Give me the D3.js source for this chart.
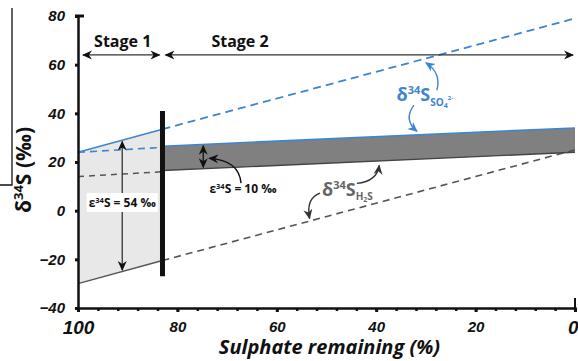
<!DOCTYPE html>
<html>
<head>
<meta charset="utf-8">
<script src="https://cdn.jsdelivr.net/npm/d3@7"></script>
<style>
  html, body { margin: 0; padding: 0; background: #fff; }
  svg { display: block; font-family: "Open Sans", "DejaVu Sans", sans-serif; }
</style>
</head>
<body>
<svg id="chart" width="578" height="361"></svg>
<script>
// Sulphate remaining (%) and δ34S (‰) for a two-stage Rayleigh-style fractionation sketch
const xTicksMajor = [100, 80, 60, 40, 20, 0];
const xTicksMinor = d3.range(100, -1, -4);
const yTicks = [80, 60, 40, 20, 0, -20, -40];

const stageBoundary = 83;          // % sulphate remaining where stage 1 ends
const epsStage1 = 54;              // ε34S in stage 1 (‰)
const epsStage2 = 10;              // ε34S in stage 2 (‰)

// Stage 1 sulphate (solid) and its dashed counterpart
const so4Stage1 = [[100, 24], [stageBoundary, 33.5]];
const so4Stage1Dashed = [[100, 24], [stageBoundary, 26]];
// Stage 2 sulphate: closed-system trend (dashed) and band top (solid)
const so4Stage2Dashed = [[stageBoundary, 33.5], [0, 79]];
const so4Stage2 = [[stageBoundary, 26.5], [0, 34]];

// Sulphide curves derived from sulphate minus ε
const h2sStage1 = so4Stage1.map(([x, v]) => [x, v - epsStage1]);
const h2sStage1Dashed = so4Stage1Dashed.map(([x, v]) => [x, v - epsStage2]);
const h2sStage2Dashed = so4Stage2Dashed.map(([x, v]) => [x, v - epsStage1]);
const h2sStage2 = so4Stage2.map(([x, v]) => [x, v - epsStage2]);

const boundaryBar = [41, -27];

const svg = d3.select("#chart");

const x = d3.scaleLinear().domain([100, 0]).range([78, 575]);
const y = d3.scaleLinear().domain([-40, 80]).range([308, 16]);

const blue = "#3d86cf";
const greyDash = "#555555";
const line = d3.line().x(d => x(d[0])).y(d => y(d[1]));

// linear interpolation along a two-point segment
function at(seg, xv) {
  const [[x0, v0], [x1, v1]] = seg;
  return v0 + (xv - x0) / (x1 - x0) * (v1 - v0);
}

// arrowhead markers
const defs = svg.append("defs");
function marker(id, color) {
  defs.append("marker")
    .attr("id", id)
    .attr("viewBox", "0 0 10 10")
    .attr("refX", 9).attr("refY", 5)
    .attr("markerWidth", 10).attr("markerHeight", 10)
    .attr("markerUnits", "userSpaceOnUse")
    .attr("orient", "auto-start-reverse")
    .append("path")
    .attr("d", "M0,0.5 L10,5 L0,9.5 L3,5 Z")
    .attr("fill", color);
}
marker("arrK", "#111");
marker("arrB", blue);
marker("arrG", "#333");

// frame line at the left edge
svg.append("path")
  .attr("d", `M12,8 L12,185 L0,185`)
  .attr("fill", "none").attr("stroke", "#111").attr("stroke-width", 1.3);

// stage 1 light fill between sulphate and sulphide
const area1 = so4Stage1.concat(h2sStage1.slice().reverse());
svg.append("path")
  .attr("d", line(area1) + "Z")
  .attr("fill", "#e8e8e8");

// stage 2 grey band between sulphate and sulphide
const area2 = so4Stage2.concat(h2sStage2.slice().reverse());
svg.append("path")
  .attr("d", line(area2) + "Z")
  .attr("fill", "#808080");

// dashed trends
svg.append("path").attr("d", line(so4Stage2Dashed))
  .attr("fill", "none").attr("stroke", blue).attr("stroke-width", 1.8).attr("stroke-dasharray", "8,5");
svg.append("path").attr("d", line(so4Stage1Dashed))
  .attr("fill", "none").attr("stroke", blue).attr("stroke-width", 1.6).attr("stroke-dasharray", "7,5");
svg.append("path").attr("d", line(h2sStage2Dashed))
  .attr("fill", "none").attr("stroke", greyDash).attr("stroke-width", 1.6).attr("stroke-dasharray", "7,5");
svg.append("path").attr("d", line(h2sStage1Dashed))
  .attr("fill", "none").attr("stroke", greyDash).attr("stroke-width", 1.5).attr("stroke-dasharray", "6,5");

// solid trends
svg.append("path").attr("d", line(so4Stage1))
  .attr("fill", "none").attr("stroke", blue).attr("stroke-width", 1.6);
svg.append("path").attr("d", line(h2sStage1))
  .attr("fill", "none").attr("stroke", "#555").attr("stroke-width", 1.4);
svg.append("path").attr("d", line(so4Stage2))
  .attr("fill", "none").attr("stroke", blue).attr("stroke-width", 1.6);
svg.append("path").attr("d", line(h2sStage2))
  .attr("fill", "none").attr("stroke", "#444").attr("stroke-width", 1.4);

// stage boundary bar
svg.append("line")
  .attr("x1", x(stageBoundary)).attr("x2", x(stageBoundary))
  .attr("y1", y(boundaryBar[0])).attr("y2", y(boundaryBar[1]))
  .attr("stroke", "#111").attr("stroke-width", 5);

// axes
const xAxisMinor = d3.axisBottom(x).tickValues(xTicksMinor).tickSize(3).tickFormat("");
svg.append("g").attr("transform", `translate(0,${y(-40)})`).call(xAxisMinor)
  .call(g => g.select(".domain").attr("stroke", "#111").attr("stroke-width", 2.5))
  .call(g => g.selectAll(".tick line").attr("stroke", "#111").attr("stroke-width", 2.5));

const xAxis = d3.axisBottom(x).tickValues(xTicksMajor).tickSize(4).tickPadding(9)
  .tickFormat(d3.format("d"));
svg.append("g").attr("transform", `translate(0,${y(-40)})`).call(xAxis)
  .call(g => g.select(".domain").remove())
  .call(g => g.selectAll(".tick line").attr("stroke", "#111").attr("stroke-width", 3))
  .call(g => g.selectAll(".tick text")
    .attr("fill", "#111")
    .attr("text-anchor", d => d === 0 ? "end" : "middle")
    .attr("dx", d => d === 0 ? 3 : 0)
    .style("font-size", d => (d === 100 || d === 0) ? "19px" : "15px")
    .style("font-weight", "bold").style("font-style", "italic"));

// end tick at 0 % rising above the axis
svg.append("line")
  .attr("x1", x(0)).attr("x2", x(0))
  .attr("y1", y(-40) - 10).attr("y2", y(-40) + 2)
  .attr("stroke", "#111").attr("stroke-width", 2);

const yAxis = d3.axisLeft(y).tickValues(yTicks).tickSize(3).tickPadding(10)
  .tickFormat(d3.format("d"));
svg.append("g").attr("transform", `translate(${x(100)},0)`).call(yAxis)
  .call(g => g.select(".domain").attr("stroke", "#111").attr("stroke-width", 2.5))
  .call(g => g.selectAll(".tick line").attr("stroke", "#111").attr("stroke-width", 3))
  .call(g => g.selectAll(".tick text")
    .attr("fill", "#111")
    .style("font-size", "15px")
    .style("font-weight", "bold").style("font-style", "italic"));

// cap at the top of the y axis
svg.append("line")
  .attr("x1", x(100) - 3).attr("x2", x(100) + 6)
  .attr("y1", y(80)).attr("y2", y(80))
  .attr("stroke", "#111").attr("stroke-width", 3);

// axis titles
svg.append("text")
  .attr("x", (x(100) + x(0)) / 2 + 3).attr("y", 354)
  .attr("text-anchor", "middle")
  .style("font-size", "20px").style("font-weight", "bold").style("font-style", "italic")
  .attr("fill", "#111")
  .text("Sulphate remaining (%)");

const yTitle = svg.append("text")
  .attr("transform", `translate(31,${(y(80) + y(-40)) / 2 + 8}) rotate(-90)`)
  .attr("text-anchor", "middle")
  .style("font-size", "21px").style("font-weight", "bold")
  .attr("fill", "#111");
yTitle.append("tspan").text("δ");
yTitle.append("tspan").attr("dy", -8).style("font-size", "13px").text("34");
yTitle.append("tspan").attr("dy", 8).text("S (‰)");

// stage arrows
const stageY = 64;
svg.append("line")
  .attr("x1", x(99)).attr("x2", x(stageBoundary + 0.6))
  .attr("y1", y(stageY)).attr("y2", y(stageY))
  .attr("stroke", "#333").attr("stroke-width", 1.3)
  .attr("marker-start", "url(#arrK)").attr("marker-end", "url(#arrK)");
svg.append("line")
  .attr("x1", x(stageBoundary - 0.6)).attr("x2", x(0.4))
  .attr("y1", y(stageY)).attr("y2", y(stageY))
  .attr("stroke", "#333").attr("stroke-width", 1.3)
  .attr("marker-start", "url(#arrK)").attr("marker-end", "url(#arrK)");

svg.append("text").attr("x", x(91)).attr("y", y(67.2))
  .attr("text-anchor", "middle").style("font-size", "16px").style("font-weight", "bold")
  .attr("fill", "#111").text("Stage 1");
svg.append("text").attr("x", x(67.4)).attr("y", y(67.2))
  .attr("text-anchor", "middle").style("font-size", "16px").style("font-weight", "bold")
  .attr("fill", "#111").text("Stage 2");

// ε = 54 ‰ double arrow in stage 1
const e54x = 91.1;
svg.append("line")
  .attr("x1", x(e54x)).attr("x2", x(e54x))
  .attr("y1", y(at(so4Stage1, e54x) - 0.6)).attr("y2", y(at(h2sStage1, e54x) + 0.6))
  .attr("stroke", "#333").attr("stroke-width", 1.3)
  .attr("marker-start", "url(#arrK)").attr("marker-end", "url(#arrK)");

const e54 = svg.append("g");
const e54Text = e54.append("text")
  .attr("x", x(e54x)).attr("y", y(1.5))
  .attr("text-anchor", "middle").style("font-size", "12px").style("font-weight", "bold")
  .attr("fill", "#111");
e54Text.append("tspan").text("ε");
e54Text.append("tspan").attr("dy", -4).style("font-size", "7.5px").text("34");
e54Text.append("tspan").attr("dy", 4).text(`S = ${epsStage1} ‰`);
const bb = e54Text.node().getBBox();
e54.insert("rect", "text")
  .attr("x", bb.x - 2).attr("y", bb.y - 1)
  .attr("width", bb.width + 4).attr("height", bb.height + 2)
  .attr("fill", "#fff");

// ε = 10 ‰ double arrow in stage 2
const e10x = 74.8;
svg.append("line")
  .attr("x1", x(e10x)).attr("x2", x(e10x))
  .attr("y1", y(at(so4Stage2, e10x) - 0.6)).attr("y2", y(at(h2sStage2, e10x) + 0.6))
  .attr("stroke", "#111").attr("stroke-width", 1.3)
  .attr("marker-start", "url(#arrK)").attr("marker-end", "url(#arrK)");

const e10Text = svg.append("text")
  .attr("x", x(66.8)).attr("y", y(7.3))
  .attr("text-anchor", "middle").style("font-size", "12px").style("font-weight", "bold")
  .attr("fill", "#111");
e10Text.append("tspan").text("ε");
e10Text.append("tspan").attr("dy", -4).style("font-size", "7.5px").text("34");
e10Text.append("tspan").attr("dy", 4).text(`S = ${epsStage2} ‰`);

// curved pointer arrows: [start, control, end] in data units
function curve(pts, color, mk) {
  const p = d3.path();
  p.moveTo(x(pts[0][0]), y(pts[0][1]));
  p.quadraticCurveTo(x(pts[1][0]), y(pts[1][1]), x(pts[2][0]), y(pts[2][1]));
  svg.append("path").attr("d", p.toString())
    .attr("fill", "none").attr("stroke", color).attr("stroke-width", 1.4)
    .attr("marker-end", `url(#${mk})`);
}
curve([[67.2, 11.3], [67.6, 20.8], [73.6, 21.5]], "#111", "arrK");
curve([[27.8, 49.5], [26.8, 56.5], [30.0, 60.8]], blue, "arrB");
curve([[32.4, 43.4], [34.6, 37.5], [31.8, 32.6]], blue, "arrB");
curve([[51.3, 7.2], [54.2, 5.0], [53.4, -3.2]], "#333", "arrG");
curve([[43.9, 11.2], [39.8, 12.0], [39.4, 18.6]], "#333", "arrG");

// δ34S SO4 2- label
const so4Label = svg.append("text")
  .attr("x", x(35.9)).attr("y", y(45.0))
  .style("font-size", "18px").style("font-weight", "bold").attr("fill", blue);
so4Label.append("tspan").text("δ");
so4Label.append("tspan").attr("dy", -7).style("font-size", "11px").text("34");
so4Label.append("tspan").attr("dy", 7).text("S");
so4Label.append("tspan").attr("dy", 5).style("font-size", "10px").text("SO");
so4Label.append("tspan").attr("dy", 2).style("font-size", "7px").text("4");
so4Label.append("tspan").attr("dy", -8).style("font-size", "6px").text("2-");

// δ34S H2S label
const h2sLabel = svg.append("text")
  .attr("x", x(50.9)).attr("y", y(6.2))
  .style("font-size", "18px").style("font-weight", "bold").attr("fill", "#666");
h2sLabel.append("tspan").text("δ");
h2sLabel.append("tspan").attr("dy", -7).style("font-size", "11px").text("34");
h2sLabel.append("tspan").attr("dy", 7).text("S");
h2sLabel.append("tspan").attr("dy", 4).style("font-size", "10px").text("H");
h2sLabel.append("tspan").attr("dy", 2).style("font-size", "7px").text("2");
h2sLabel.append("tspan").attr("dy", -2).style("font-size", "10px").text("S");
</script>
</body>
</html>
